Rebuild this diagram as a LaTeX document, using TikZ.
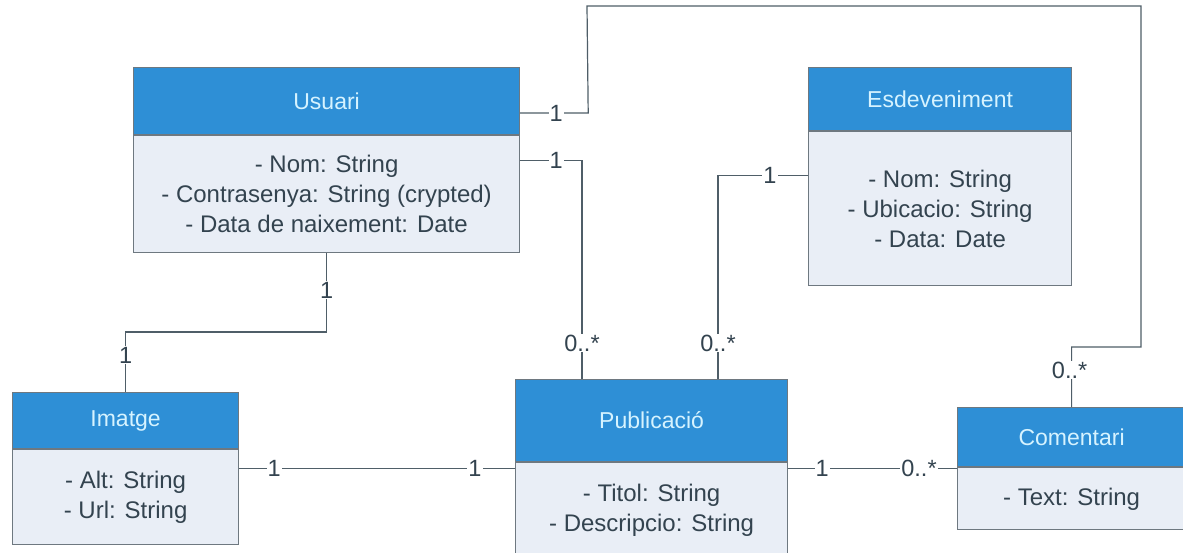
\documentclass[tikz,border=0pt]{standalone}
\usepackage{fontspec}
\setmainfont{Liberation Sans}
\usetikzlibrary{calc}
\definecolor{hdrblue}{HTML}{2E8FD6}
\definecolor{hdrtext}{HTML}{D6F3FF}
\definecolor{bodyfill}{HTML}{E9EEF6}
\definecolor{edgegray}{HTML}{6E7880}
\definecolor{txtcol}{HTML}{33434F}
\definecolor{wire}{HTML}{4F5E68}
\begin{document}
\begin{tikzpicture}[x=1pt,y=-1pt,
  hdr/.style={draw=edgegray, line width=1.2pt, fill=hdrblue, text=hdrtext, anchor=north west, inner sep=0pt, font=\fontsize{23}{26}\selectfont},
  attrbox/.style={draw=edgegray, line width=1.2pt, fill=bodyfill, text=txtcol, anchor=north west, inner sep=0pt, align=center, font=\fontsize{24}{30}\selectfont},
  conn/.style={draw=wire, line width=1.2pt},
  mult/.style={fill=white, text=txtcol, inner sep=1pt, font=\fontsize{23.5}{24}\selectfont}]
\useasboundingbox (0,0) rectangle (1183,553);
\clip (0,0) rectangle (1183,553);
\fill[white] (0,0) rectangle (1183,553);

% Usuari
\node[hdr, minimum width=386pt, minimum height=67pt] (usuH) at (133,67) {Usuari};
\node[attrbox, minimum width=386pt, minimum height=117pt] (usuB) at (usuH.south west) {- Nom: String\\- Contrasenya: String (crypted)\\- Data de naixement: Date};

% Esdeveniment
\node[hdr, minimum width=263pt, minimum height=63pt] (esdH) at (808,67) {Esdeveniment};
\node[attrbox, minimum width=263pt, minimum height=154pt] (esdB) at (esdH.south west) {- Nom: String\\- Ubicacio: String\\- Data: Date};

% Imatge
\node[hdr, minimum width=226pt, minimum height=56pt] (imgH) at (12,392) {Imatge};
\node[attrbox, minimum width=226pt, minimum height=95pt] (imgB) at (imgH.south west) {- Alt: String\\- Url: String};

% Publicacio
\node[hdr, minimum width=272pt, minimum height=82pt] (pubH) at (515,379) {Publicació};
\node[attrbox, minimum width=272pt, minimum height=94pt] (pubB) at (pubH.south west) {- Titol: String\\- Descripcio: String};

% Comentari
\node[hdr, minimum width=228pt, minimum height=59pt] (comH) at (957,407) {Comentari};
\node[attrbox, minimum width=228pt, minimum height=62pt] (comB) at (comH.south west) {- Text: String};

% Usuari -> Comentari
\coordinate (uc1) at ($(usuH.north east)+(0,46)$);
\draw[conn] (uc1) -- ++(68,0) -- (587,6) -- (1141,6) -- (1141,347) -- (comH.north |- 0,347) -- (comH.north);
\node[mult] (m1a) at ($(uc1)+(36,0)$) {1};
\node[mult] (m1b) at ($(comH.north)+(-2,-37)$) {0..*};

% Usuari -> Publicacio
\coordinate (uc2) at ($(usuB.north east)+(0,25)$);
\coordinate (pc1) at ($(pubH.north west)+(67,0)$);
\draw[conn] (uc2) -- (uc2 -| pc1) -- (pc1);
\node[mult] (m2a) at ($(uc2)+(36,0)$) {1};
\node[mult] (m2b) at ($(pc1)+(0,-36)$) {0..*};

% Esdeveniment -> Publicacio
\coordinate (ec1) at ($(esdB.north west)+(0,44)$);
\coordinate (pc2) at ($(pubH.north west)+(203,0)$);
\draw[conn] (ec1) -- (ec1 -| pc2) -- (pc2);
\node[mult] (m3a) at ($(ec1)+(-38,0)$) {1};
\node[mult] (m3b) at ($(pc2)+(0,-36)$) {0..*};

% Usuari -> Imatge
\draw[conn] (usuB.south) -- (usuB.south |- 0,332) -- (imgH.north |- 0,332) -- (imgH.north);
\node[mult] (m4a) at ($(usuB.south)+(0,37)$) {1};
\node[mult] (m4b) at ($(imgH.north)+(0,-37)$) {1};

% Imatge -> Publicacio
\coordinate (ic1) at ($(imgB.north east)+(0,19)$);
\draw[conn] (ic1) -- (ic1 -| pubB.west);
\node[mult] (m5a) at ($(ic1)+(35,0)$) {1};
\node[mult] (m5b) at ($(ic1 -| pubB.west)+(-40,0)$) {1};

% Publicacio -> Comentari
\coordinate (pc3) at ($(pubB.north east)+(0,6)$);
\draw[conn] (pc3) -- (pc3 -| comB.west);
\node[mult] (m6a) at ($(pc3)+(34,0)$) {1};
\node[mult] (m6b) at ($(pc3 -| comB.west)+(-38,0)$) {0..*};
\end{tikzpicture}
\end{document}
